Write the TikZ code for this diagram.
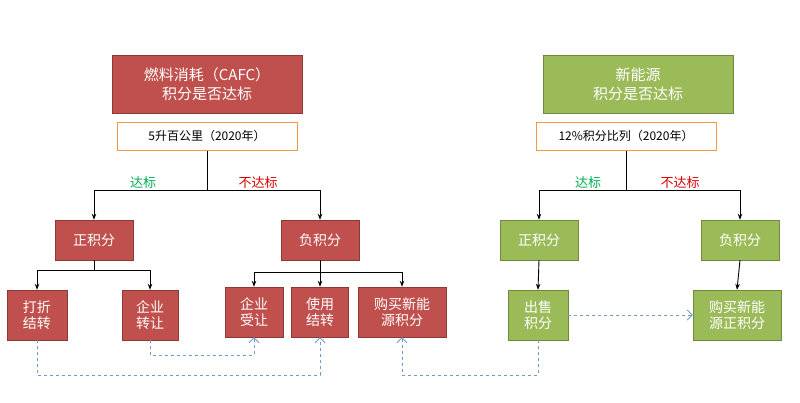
\documentclass[tikz,border=0pt]{standalone}
\usepackage{fontspec}
\setmainfont{Noto Sans CJK SC}
\usetikzlibrary{positioning,arrows.meta}
\definecolor{redbox}{RGB}{192,80,77}
\definecolor{redline}{RGB}{140,56,54}
\definecolor{greenbox}{RGB}{155,187,89}
\definecolor{greenline}{RGB}{113,137,63}
\definecolor{orangeline}{RGB}{247,150,70}
\definecolor{dashblue}{RGB}{79,129,189}
\definecolor{okgreen}{RGB}{0,176,80}
\tikzset{
  redbox/.style={draw=redline,fill=redbox,text=white,minimum width=#1,minimum height=50,inner sep=1pt,align=center,font=\fontsize{14}{16}\selectfont},
  greenbox/.style={draw=greenline,fill=greenbox,text=white,minimum width=#1,minimum height=50,inner sep=1pt,align=center,font=\fontsize{14}{16}\selectfont},
  headred/.style={redbox=190,minimum height=58,font=\fontsize{15}{19}\selectfont},
  headgreen/.style={greenbox=190,minimum height=58,font=\fontsize{15}{19}\selectfont},
  midred/.style={redbox=78,minimum height=40},
  midgreen/.style={greenbox=78,minimum height=40},
  normbox/.style={draw=orangeline,line width=1pt,fill=white,minimum width=180,minimum height=28,font=\fontsize{12}{14}\selectfont},
  tree/.style={-{Stealth[length=6pt]},line width=0.9pt},
  link/.style={dashed,draw=dashblue!80,line width=0.8pt,-{Straight Barb[length=5pt]}},
  yes/.style={text=okgreen,font=\fontsize{13}{15}\selectfont},
  no/.style={text=red!85!black,font=\fontsize{13}{15}\selectfont}
}
\begin{document}
\begin{tikzpicture}[x=1pt,y=-1pt]
\useasboundingbox (0,0) rectangle (800,402);
% left: fuel consumption
\node[headred] (fuel) at (207,84) {燃料消耗（CAFC）\\积分是否达标};
\node[normbox] (fstd) at (207,136) {5升百公里（2020年）};
\node[midred] (fpos) at (94,240) {正积分};
\node[midred] (fneg) at (320,240) {负积分};
\node[redbox=60] (disc) at (37,315) {打折\\结转};
\node[redbox=56] (sell) at (150,315) {企业\\转让};
\node[redbox=58] (recv) at (254,312) {企业\\受让};
\node[redbox=57] (carry) at (320,312) {使用\\结转};
\node[redbox=88] (buynev) at (402,312) {购买新能\\源积分};
% right: new energy
\node[headgreen] (nev) at (638,84) {新能源\\积分是否达标};
\node[normbox] (nstd) at (626,136) {12\%积分比列（2020年）};
\node[midgreen] (npos) at (539,240) {正积分};
\node[midgreen] (nneg) at (740,240) {负积分};
\node[greenbox=60] (nsell) at (538,315) {出售\\积分};
\node[greenbox=88] (nbuy) at (737,315) {购买新能\\源正积分};
\node[yes] (fyes) at (143,183) {达标};
\node[no] (fno) at (258,183) {不达标};
\node[yes] (nyes) at (588,183) {达标};
\node[no] (nno) at (680,183) {不达标};

\draw[line width=0.9pt] (fstd.south) -- ++(0,40);
\draw[tree] (94,190) -| (fpos.north);
\draw[tree] (94,190) -- (320,190) -- (fneg.north);
\draw[line width=0.9pt] (fpos.south) -- ++(0,10);
\draw[tree] (37,270) -| (disc.north);
\draw[tree] (37,270) -| (sell.north);
\draw[tree] (fneg.south) -- (carry.north);
\draw[tree] (254,272) -| (recv.north);
\draw[tree] (254,272) -| (buynev.north);
\draw[line width=0.9pt] (nstd.south) -- ++(0,40);
\draw[tree] (540,190) -| (npos.north);
\draw[tree] (540,190) -| (nneg.north);
\draw[tree] (npos.south) -- (nsell.north);
\draw[tree] (nneg.south) -- (nbuy.north);

\draw[link] (disc.south) -- ++(0,35) -| (carry.south);
\draw[link] (sell.south) -- ++(0,15) -| (recv.south);
\draw[link] (nsell.south) -- ++(0,35) -| (buynev.south);
\draw[link] (nsell.east) -- (nbuy.west);
\end{tikzpicture}
\end{document}
